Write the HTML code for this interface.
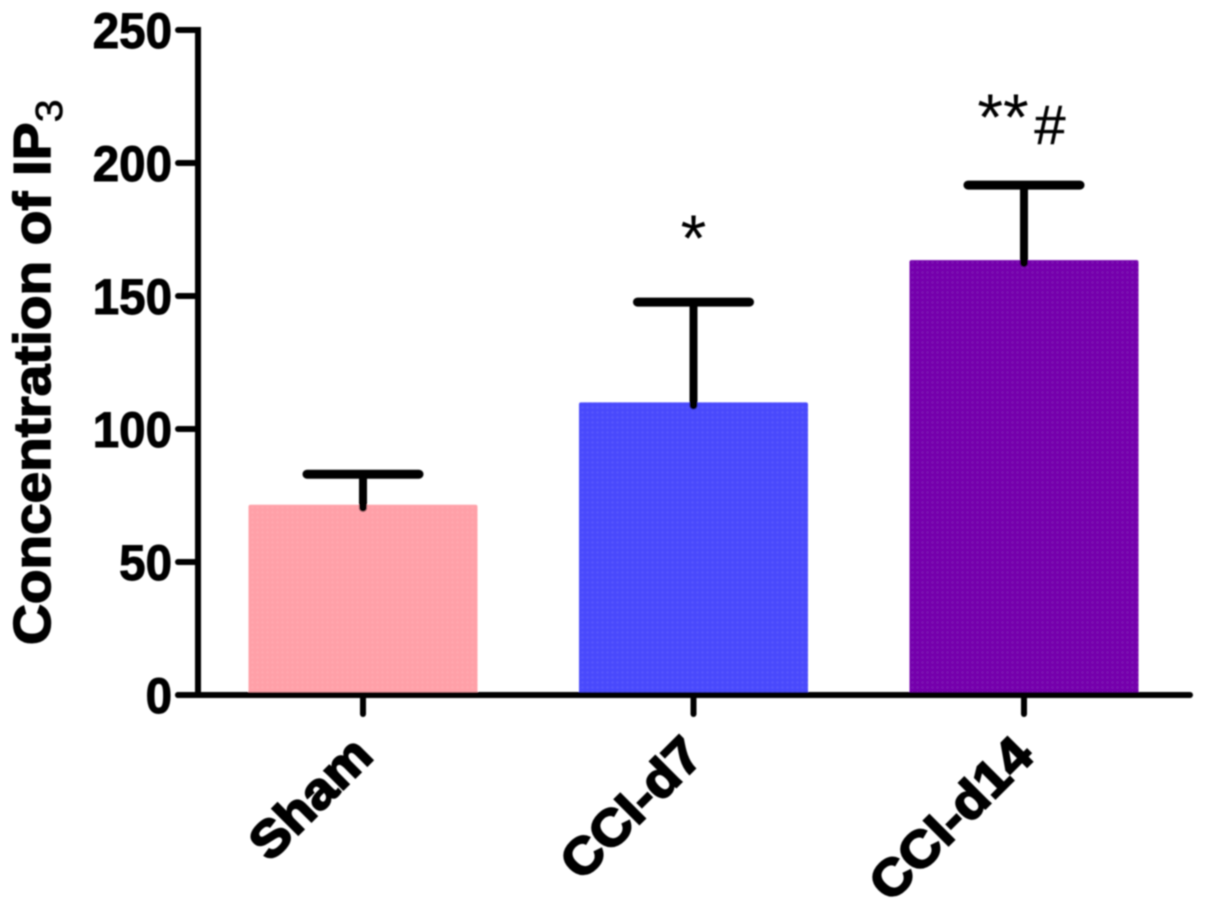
<!DOCTYPE html>
<html>
<head>
<meta charset="utf-8">
<title>Concentration of IP3</title>
<style>
html,body{margin:0;padding:0;background:#fff;width:1205px;height:906px;overflow:hidden}
svg{display:block}
text{font-family:"Liberation Sans",sans-serif;fill:#000}
</style>
</head>
<body>
<svg id="chart" width="1205" height="906" viewBox="0 0 1205 906" xmlns="http://www.w3.org/2000/svg">
<defs>
<filter id="soft" x="-5%" y="-5%" width="110%" height="110%"><feGaussianBlur stdDeviation="0.8"/></filter>
<pattern id="dots" width="5" height="5" patternUnits="userSpaceOnUse"><circle cx="2.5" cy="2.5" r="1.2" fill="#fff" fill-opacity="0.07"/></pattern>
</defs>
<g id="plot" filter="url(#soft)"></g>
</svg>
<script>
var categories = ['Sham', 'CCI-d7', 'CCI-d14'];
var means = [71.5, 110, 163.5];
var upperErrors = [83, 147.7, 191.7];
var tickValues = [0, 50, 100, 150, 200, 250];
var significance = ['', '*', '**'];
var significanceSuffix = ['', '', '#'];
var barColors = ['#ffa0a8', '#4a4afc', '#7400ac'];

var NS = 'http://www.w3.org/2000/svg';
var plot = document.getElementById('plot');
var axisBaseY = 695, axisTopY = 30, axisLeftX = 198, axisRightX = 1190;
var firstCenter = 363, centerStep = 330.5, barWidth = 229, capHalf = 56;

function yScale(v) { return axisBaseY - v * (axisBaseY - axisTopY) / 250; }
function xScale(i) { return firstCenter + i * centerStep; }
function make(tag, attrs, parent) {
  var el = document.createElementNS(NS, tag);
  for (var k in attrs) el.setAttribute(k, attrs[k]);
  (parent || plot).appendChild(el);
  return el;
}

categories.forEach(function (cat, i) {
  var x = xScale(i), top = yScale(means[i]);
  var bar = make('rect', {x: x - barWidth / 2, y: top, width: barWidth, height: axisBaseY - top, rx: 2, fill: barColors[i]});
  
  
  var tex = make('rect', {x: x - barWidth / 2, y: top, width: barWidth, height: axisBaseY - top, fill: 'url(#dots)'});
  
  
});

categories.forEach(function (cat, i) {
  var x = xScale(i), top = yScale(means[i]), up = yScale(upperErrors[i]);
  var stem = make('line', {x1: x, x2: x, y1: top + 3, y2: up, stroke: '#000', 'stroke-width': 8, 'stroke-linecap': 'round'});
  
  
  var cap = make('line', {x1: x - capHalf, x2: x + capHalf, y1: up, y2: up, stroke: '#000', 'stroke-width': 9, 'stroke-linecap': 'round'});
  
  
});

var yAxis = make('line', {x1: axisLeftX, x2: axisLeftX, y1: axisTopY - 3, y2: axisBaseY, stroke: '#000', 'stroke-width': 6});


var xAxis = make('line', {x1: 178, x2: axisRightX, y1: axisBaseY, y2: axisBaseY, stroke: '#000', 'stroke-width': 6, 'stroke-linecap': 'round'});



tickValues.forEach(function (v) {
  var y = yScale(v);
  var t = make('line', {x1: 178, x2: axisLeftX, y1: y, y2: y, stroke: '#000', 'stroke-width': 6, 'stroke-linecap': 'round'});
  
  
  var l = make('text', {transform: 'translate(172 ' + (y + 18) + ') scale(0.95 1)', 'text-anchor': 'end', 'font-size': 50, 'font-weight': 'bold', stroke: '#000', 'stroke-width': 1});
  l.textContent = v;
  
  
});

categories.forEach(function (cat, i) {
  var x = xScale(i);
  var t = make('line', {x1: x, x2: x, y1: axisBaseY, y2: axisBaseY + 19, stroke: '#000', 'stroke-width': 6, 'stroke-linecap': 'round'});
  
  
  var ax = x + 12, ay = 758;
  var l = make('text', {transform: 'translate(' + ax + ' ' + ay + ') rotate(-45) scale(1.07 1)', 'text-anchor': 'end', 'font-size': 51, 'font-weight': 'bold', stroke: '#000', 'stroke-width': 2});
  l.textContent = cat;
  
  

  if (significance[i]) {
    var s = make('text', {x: x + (significanceSuffix[i] ? -21 : 0), y: yScale(upperErrors[i]) - (significanceSuffix[i] ? 45 : 41), 'text-anchor': 'middle', 'font-size': 66});
    s.textContent = significance[i];
    
    
  }
  if (significanceSuffix[i]) {
    var h = make('text', {x: x + 26, y: yScale(upperErrors[i]) - 41, 'text-anchor': 'middle', 'font-size': 56, stroke: '#000', 'stroke-width': 0.5});
    h.textContent = significanceSuffix[i];
    
    
  }
});

var title = make('text', {transform: 'translate(50 645) rotate(-90) scale(1.09 1)', 'font-size': 52, 'font-weight': 'bold', stroke: '#000', 'stroke-width': 1.5});


title.appendChild(document.createTextNode('Concentration of IP'));
var sub = make('tspan', {dy: 12, 'font-size': 38, 'font-weight': 'normal', 'stroke-width': 0.6}, title);
sub.textContent = '3';
</script>
</body>
</html>
